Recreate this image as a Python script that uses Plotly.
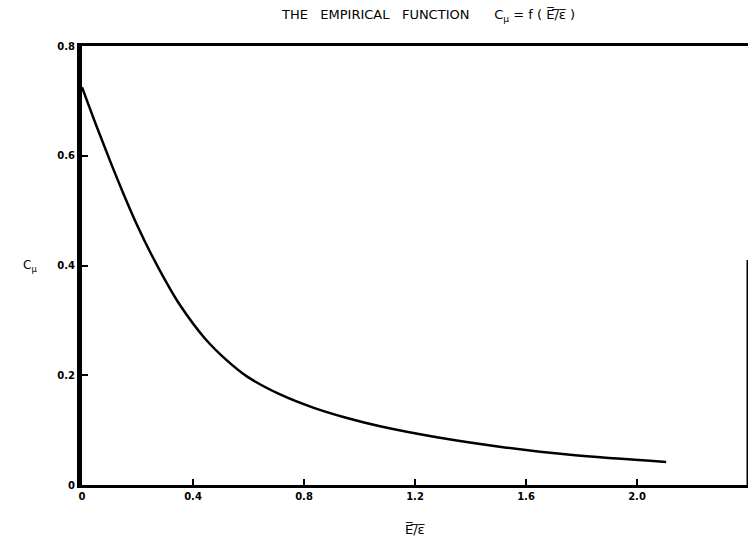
import plotly.graph_objects as go

# Curve
e_ratio = [0.0, 0.05, 0.1, 0.15, 0.2, 0.25, 0.3, 0.353, 0.443, 0.52, 0.594, 0.714,
           0.833, 0.955, 1.074, 1.279, 1.517, 1.759, 2.105]
c_mu = [0.725, 0.657, 0.592, 0.530, 0.472, 0.420, 0.373, 0.328, 0.267, 0.228, 0.198, 0.165,
        0.141, 0.122, 0.107, 0.087, 0.069, 0.055, 0.042]

x_ticks = [0, 0.4, 0.8, 1.2, 1.6, 2.0, 2.4]
x_tick_text = ["0", "0.4", "0.8", "1.2", "1.6", "2.0", "2.4"]
y_ticks = [0, 0.2, 0.4, 0.6, 0.8]
y_tick_text = ["0", "0.2", "0.4", "0.6", "0.8"]

FONT = "DejaVu Sans"

fig = go.Figure()
fig.add_trace(go.Scatter(x=e_ratio, y=c_mu, mode="lines",
                         line=dict(color="black", width=2.5, shape="spline", smoothing=1.0),
                         showlegend=False, hoverinfo="skip"))

fig.update_layout(
    width=751, height=547,
    margin=dict(l=82, r=3, t=46, b=62),
    paper_bgcolor="white", plot_bgcolor="white",
    font=dict(family=FONT, color="black", size=10),
    xaxis=dict(range=[0, 2.4], tickvals=x_ticks, ticktext=x_tick_text,
               showgrid=False, zeroline=False, showline=True, linecolor="black",
               linewidth=3, mirror=True, ticks="inside", ticklen=6, tickwidth=1.5,
               tickcolor="black", tickfont=dict(family=FONT, size=10, weight="bold")),
    yaxis=dict(range=[0, 0.8], tickvals=y_ticks, ticktext=y_tick_text,
               showgrid=False, zeroline=False, showline=True, linecolor="black",
               linewidth=5, ticks="inside", ticklen=6, tickwidth=1.5,
               tickcolor="black", tickfont=dict(family=FONT, size=10, weight="bold")),
)

# partial right border as in the scan
fig.add_shape(type="line", xref="x", yref="y", x0=2.4, x1=2.4, y0=0, y1=0.41,
              line=dict(color="black", width=3))

# title
fig.add_annotation(xref="paper", yref="paper", x=0.52, y=1.0, yshift=41,
                   text="THE   EMPIRICAL   FUNCTION      C<sub>μ</sub> = f ( E̅/̅ε̅ )",
                   showarrow=False, font=dict(family=FONT, size=13), xanchor="center")
# y axis title
fig.add_annotation(xref="paper", yref="paper", x=-0.078, y=0.5,
                   text="C<sub>μ</sub>", showarrow=False,
                   font=dict(family=FONT, size=12), xanchor="center")
# x axis title
fig.add_annotation(xref="paper", yref="paper", x=0.5, y=0, yshift=-54,
                   text="E̅/̅ε̅", showarrow=False,
                   font=dict(family=FONT, size=13), xanchor="center")

fig.write_html("out.html")
